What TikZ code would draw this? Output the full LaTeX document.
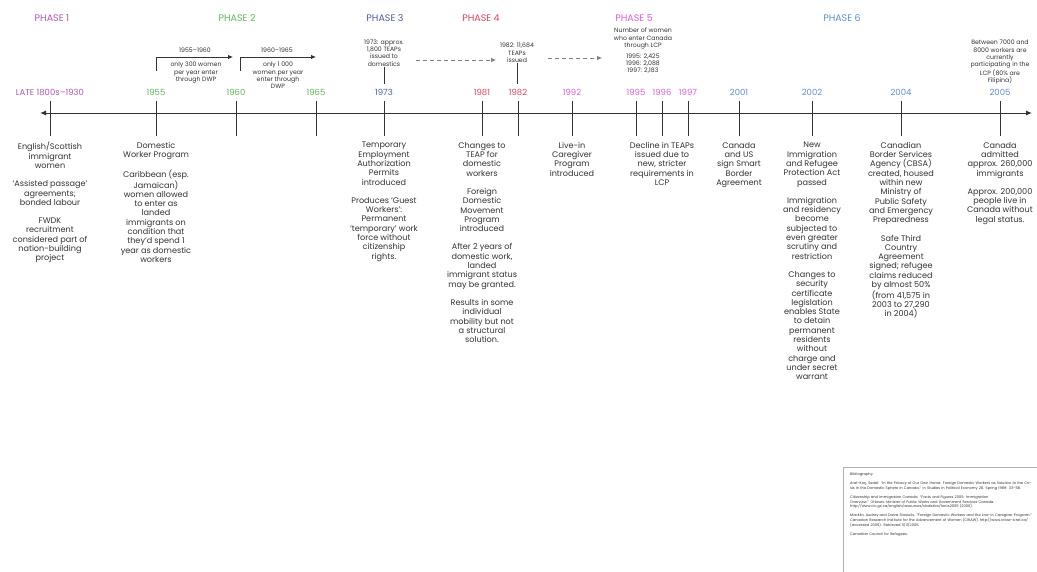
\documentclass[tikz,border=0pt]{standalone}
\usepackage{fontspec}
\setmainfont{Poppins}
\usetikzlibrary{arrows.meta}
\definecolor{pone}{HTML}{B455B8}
\definecolor{ptwo}{HTML}{62B85A}
\definecolor{pthree}{HTML}{4F5FA8}
\definecolor{pfour}{HTML}{E0455A}
\definecolor{pfive}{HTML}{DD5FDD}
\definecolor{psix}{HTML}{5F8FD6}
\definecolor{ink}{HTML}{333333}
\tikzset{
  phase/.style={font=\fontsize{9.5}{10}\selectfont, anchor=center, inner sep=1pt},
  yr/.style={font=\fontsize{8.5}{9}\selectfont, anchor=center, inner sep=1pt},
  txt/.style={font=\fontsize{8.1}{9.3}\selectfont, text=ink, align=center, anchor=north, inner sep=0pt},
  note/.style={font=\fontsize{6.2}{7.4}\selectfont, text=ink, align=center, inner sep=0pt},
  tick/.style={draw=ink, line width=0.8pt},
  axis/.style={draw=ink, line width=1pt, {Latex[length=6pt,width=5pt]}-{Latex[length=6pt,width=5pt]}},
  brk/.style={draw=ink, line width=0.8pt, -{Latex[length=5pt,width=4.5pt]}},
  dsh/.style={draw=gray, line width=0.7pt, dash pattern=on 4pt off 3pt, -{Latex[length=5pt,width=4.5pt]}},
  refs/.style={font=\fontsize{3.6}{4.8}\selectfont, text=ink, align=left, anchor=north west, inner sep=0pt, text width=182pt},
}
\begin{document}
\begin{tikzpicture}[x=1pt,y=-1pt]
\useasboundingbox (0,0) rectangle (1037,571);
\fill[white] (0,0) rectangle (1037,571);

% phase headers
\node[phase, text=pone] (ph1) at (52,18) {PHASE 1};
\node[phase, text=ptwo] (ph2) at (237,18) {PHASE 2};
\node[phase, text=pthree] (ph3) at (385,18) {PHASE 3};
\node[phase, text=pfour] (ph4) at (481,18) {PHASE 4};
\node[phase, text=pfive] (ph5) at (634,18) {PHASE 5};
\node[phase, text=psix] (ph6) at (842,18) {PHASE 6};

% axis
\coordinate (axL) at (40,113);
\coordinate (axR) at (1032,113);
\draw[axis] (axL) -- (axR);

% ticks and year labels
\foreach \n/\x/\c/\t in {a/50/pone/LATE 1800s--1930, b/156/ptwo/1955, c/236/ptwo/1960, d/316/ptwo/1965,
  e/384/pthree/1973, f/482/pfour/1981, g/518/pfour/1982, h/572/pfive/1992, i/636/pfive/1995,
  j/662/pfive/1996, k/688/pfive/1997, l/739/psix/2001, m/812/psix/2002, n/901/psix/2004, o/1000/psix/2005}{
  \node[yr, text=\c] (y\n) at (\x,92) {\t};
  \coordinate (t\n top) at (\x,101);
  \coordinate (t\n bot) at (\x,136);
  \draw[tick] (t\n top) -- (t\n bot);
}

% phase 2 brackets
\coordinate (b1s) at (156,71);
\coordinate (b1e) at (233,57);
\draw[brk] (b1s) |- (b1e);
\node[note] (b1y) at (195,50) {1955--1960};
\node[note, anchor=north] (b1t) at (196,62) {only 300 women\\per year enter\\through DWP};
\coordinate (b2s) at (240,71);
\coordinate (b2e) at (316,57);
\draw[brk] (b2s) |- (b2e);
\node[note] (b2y) at (277,50) {1960--1965};
\node[note, anchor=north] (b2t) at (278,62) {only 1 000\\women per year\\enter through\\DWP};

% TEAP annotations
\node[note] (a73) at (384,53) {1973: approx.\\1,800 TEAPs\\issued to\\domestics};
\coordinate (a73b) at (384,84);
\draw[tick] (a73.south) -- (a73b);
\node[note] (a82) at (517,53) {1982: 11,684\\TEAPs\\issued};
\coordinate (a82b) at (517,84);
\draw[tick] (a82.south) -- (a82b);
\coordinate (d1s) at (416,60);
\coordinate (d1e) at (496,60);
\draw[dsh] (d1s) -- (d1e);
\node[note, anchor=north] (a95) at (643,28) {Number of women\\who enter Canada\\through LCP\\[3pt]1995: 2,425\\1996: 2,088\\1997: 2,183};
\coordinate (d2s) at (548,58);
\coordinate (d2e) at (602,58);
\draw[dsh] (d2s) -- (d2e);

\node[note, anchor=north] (a05) at (1000,40) {Between 7000 and\\8000 workers are\\currently\\participating in the\\LCP (80\% are\\Filipina)};

% descriptions
\node[txt] (da) at (50,142) {English/Scottish\\immigrant\\women\\[9pt]`Assisted passage'\\agreements;\\bonded labour\\[9pt]FWDK\\recruitment\\considered part of\\nation-building\\project};
\node[txt] (db) at (156,142) {Domestic\\Worker Program\\[9pt]Caribbean (esp.\\Jamaican)\\women allowed\\to enter as\\landed\\immigrants on\\condition that\\they'd spend 1\\year as domestic\\workers};
\node[txt] (de) at (384,142) {Temporary\\Employment\\Authorization\\Permits\\introduced\\[9pt]Produces `Guest\\Workers':\\Permanent\\`temporary' work\\force without\\citizenship\\rights.};
\node[txt] (df) at (482,142) {Changes to\\TEAP for\\domestic\\workers\\[9pt]Foreign\\Domestic\\Movement\\Program\\introduced\\[9pt]After 2 years of\\domestic work,\\landed\\immigrant status\\may be granted.\\[9pt]Results in some\\individual\\mobility but not\\a structural\\solution.};
\node[txt] (dh) at (572,142) {Live-in\\Caregiver\\Program\\introduced};
\node[txt] (dj) at (662,142) {Decline in TEAPs\\issued due to\\new, stricter\\requirements in\\LCP};
\node[txt] (dl) at (739,142) {Canada\\and US\\sign Smart\\Border\\Agreement};
\node[txt] (dm) at (812,142) {New\\Immigration\\and Refugee\\Protection Act\\passed\\[9pt]Immigration\\and residency\\become\\subjected to\\even greater\\scrutiny and\\restriction\\[9pt]Changes to\\security\\certificate\\legislation\\enables State\\to detain\\permanent\\residents\\without\\charge and\\under secret\\warrant};
\node[txt] (dn) at (901,142) {Canadian\\Border Services\\Agency (CBSA)\\created, housed\\within new\\Ministry of\\Public Safety\\and Emergency\\Preparedness\\[9pt]Safe Third\\Country\\Agreement\\signed; refugee\\claims reduced\\by almost 50\%\\(from 41,575 in\\2003 to 27,290\\in 2004)};
\node[txt] (do) at (1000,142) {Canada\\admitted\\approx. 260,000\\immigrants\\[9pt]Approx. 200,000\\people live in\\Canada without\\legal status.};

% references box
\draw[gray!60, line width=0.5pt] (843,467) rectangle (1040,575);
\node[refs] (rf) at (850,473) {Bibliography\\[4pt]
Arat-Ko\c{c}, Sedef. ``In the Privacy of Our Own Home: Foreign Domestic Workers as Solution to the Crisis in the Domestic Sphere in Canada.'' in Studies in Political Economy 28. Spring 1989: 33--58.\\[4pt]
Citizenship and Immigration Canada. ``Facts and Figures 2005: Immigration Overview.'' Ottawa: Minister of Public Works and Government Services Canada. http://www.cic.gc.ca/english/resources/statistics/facts2005 (2006).\\[4pt]
Macklin, Audrey and Daiva Stasiulis. ``Foreign Domestic Workers and the Live-in Caregiver Program.'' Canadian Research Institute for the Advancement of Women (CRIAW). http://www.criaw-icref.ca/ (accessed 2006). Retrieved 11/11/2006.\\[4pt]
Canadian Council for Refugees.};
\end{tikzpicture}
\end{document}
